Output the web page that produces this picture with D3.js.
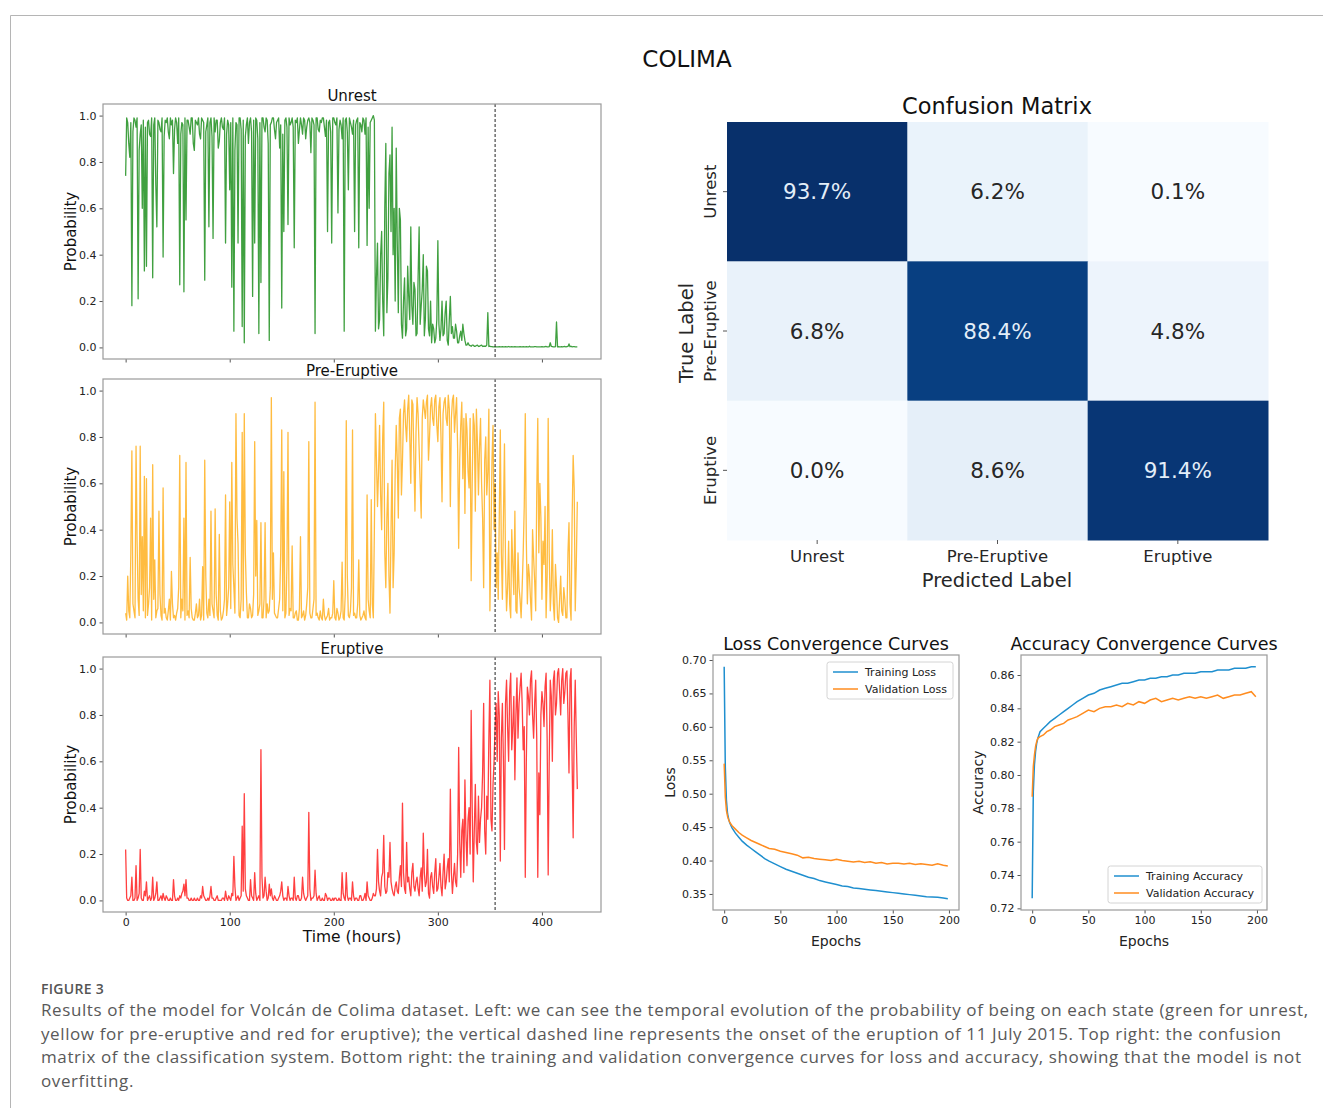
<!DOCTYPE html>
<html>
<head>
<meta charset="utf-8">
<script src="https://cdn.jsdelivr.net/npm/d3@7"></script>
<style>
body { margin: 0; background: #fff; }
svg text { font-family: "DejaVu Sans", sans-serif; }
svg text.cap { font-family: "Open Sans", sans-serif; }
</style>
</head>
<body>
<svg width="1323" height="1108"></svg>
<script>
'use strict';

// hourly probabilities 0..434 h, stored as readings at even hours and at odd hours
var hours = d3.range(0, 435);
var onsetHour = 355;

var unrestEven = [
  0.74,0.97,0.82,0.18,0.99,0.95,0.21,0.92,0.60,0.33,
  0.35,0.98,0.91,0.30,0.99,0.52,0.97,0.93,0.39,0.98,
  0.99,0.90,0.96,0.75,0.99,0.88,0.27,0.97,0.24,0.55,
  0.98,0.92,0.99,0.85,0.97,0.99,0.90,0.98,0.29,0.96,
  0.52,0.99,0.47,0.93,0.98,0.89,0.99,0.94,0.45,0.98,
  0.68,0.26,0.07,0.97,0.45,0.99,0.09,0.02,0.96,0.88,
  0.99,0.22,0.45,0.98,0.06,0.28,0.99,0.93,0.98,0.03,
  0.97,0.99,0.90,0.98,0.86,0.17,0.50,0.99,0.53,0.96,
  0.99,0.43,0.97,0.88,0.99,0.92,0.98,0.95,0.99,0.84,
  0.98,0.06,0.99,0.93,0.97,0.99,0.91,0.50,0.98,0.45,
  0.99,0.96,0.58,0.98,0.90,0.07,0.99,0.68,0.97,0.92,
  0.50,0.98,0.43,0.96,0.99,0.92,0.44,0.60,0.98,1.00,
  0.07,0.45,0.12,0.50,0.05,0.88,0.30,0.83,0.95,0.60,
  0.86,0.15,0.55,0.04,0.30,0.08,0.22,0.52,0.10,0.25,
  0.06,0.52,0.18,0.40,0.12,0.33,0.05,0.02,0.08,0.04,
  0.46,0.03,0.20,0.06,0.20,0.01,0.22,0.09,0.04,0.07,
  0.02,0.07,0.10,0.03,0.01,0.01,0.005,0.01,0.005,0.01,
  0.005,0.01,0.005,0.005,0.15,0.005,0.003,0.002,0.002,0.002,
  0.002,0.003,0.002,0.002,0.004,0.002,0.002,0.003,0.002,0.002,
  0.002,0.003,0.002,0.002,0.005,0.002,0.002,0.003,0.002,0.002,
  0.003,0.002,0.004,0.002,0.02,0.003,0.002,0.11,0.003,0.002,
  0.002,0.004,0.003,0.015,0.005,0.003,0.002,0.002
];
var unrestOdd = [
  0.99,0.88,0.97,0.93,0.98,0.99,0.85,0.96,0.98,0.95,
  0.97,0.92,0.99,0.96,0.70,0.98,0.94,0.99,0.91,0.97,
  0.93,0.99,0.98,0.94,0.97,0.99,0.92,0.96,0.99,0.98,
  0.95,0.99,0.88,0.98,0.96,0.92,0.99,0.97,0.93,0.99,
  0.97,0.91,0.99,0.98,0.86,0.97,0.95,0.99,0.92,0.96,
  0.97,0.99,0.85,0.96,0.99,0.94,0.98,0.91,0.99,0.97,
  0.93,0.98,0.99,0.90,0.97,0.99,0.95,0.99,0.88,0.96,
  0.99,0.94,0.97,0.99,0.96,0.92,0.98,0.95,0.99,0.97,
  0.95,0.98,0.99,0.94,0.96,0.99,0.90,0.98,0.97,0.99,
  0.96,0.99,0.94,0.98,0.99,0.95,0.98,0.97,0.93,0.99,
  0.97,0.99,0.94,0.96,0.99,0.98,0.93,0.99,0.95,0.98,
  0.96,0.99,0.97,0.93,0.98,0.99,0.95,0.97,0.99,0.98,
  0.30,0.08,0.40,0.20,0.60,0.15,0.75,0.50,0.40,0.20,
  0.45,0.60,0.10,0.20,0.05,0.35,0.12,0.18,0.28,0.05,
  0.30,0.10,0.25,0.05,0.35,0.08,0.20,0.10,0.02,0.12,
  0.10,0.08,0.05,0.15,0.03,0.12,0.06,0.04,0.10,0.02,
  0.05,0.03,0.06,0.01,0.02,0.008,0.01,0.005,0.008,0.004,
  0.008,0.004,0.006,0.01,0.004,0.003,0.002,0.003,0.002,0.003,
  0.002,0.002,0.003,0.002,0.002,0.003,0.002,0.002,0.002,0.003,
  0.002,0.002,0.003,0.002,0.002,0.002,0.003,0.002,0.002,0.002,
  0.002,0.003,0.002,0.003,0.004,0.002,0.003,0.002,0.002,0.003,
  0.003,0.002,0.004,0.003,0.002,0.003,0.002
];

var preEruptiveEven = [
  0.04,0.20,0.02,0.74,0.05,0.76,0.10,0.76,0.37,0.63,
  0.62,0.08,0.45,0.68,0.27,0.05,0.48,0.03,0.58,0.06,
  0.01,0.10,0.22,0.02,0.01,0.06,0.72,0.10,0.45,0.69,
  0.05,0.28,0.02,0.01,0.08,0.03,0.01,0.24,0.70,0.04,
  0.10,0.48,0.05,0.49,0.03,0.38,0.01,0.05,0.55,0.08,
  0.52,0.69,0.15,0.90,0.34,0.02,0.82,0.90,0.13,0.02,
  0.06,0.03,0.78,0.44,0.05,0.43,0.02,0.43,0.08,0.05,
  0.97,0.30,0.03,0.02,0.10,0.83,0.65,0.04,0.82,0.06,
  0.33,0.02,0.05,0.01,0.37,0.03,0.01,0.08,0.78,0.02,
  0.06,0.95,0.04,0.01,0.02,0.10,0.01,0.03,0.01,0.02,
  0.18,0.01,0.04,0.02,0.26,0.01,0.87,0.03,0.05,0.83,
  0.04,0.02,0.27,0.01,0.03,0.02,0.55,0.05,0.53,0.02,
  0.90,0.50,0.85,0.40,0.95,0.15,0.60,0.04,0.70,0.30,
  0.85,0.45,0.92,0.70,0.96,0.78,0.98,0.60,0.94,0.48,
  0.97,0.75,0.45,0.96,0.88,0.98,0.80,0.97,0.85,0.98,
  0.78,0.97,0.52,0.95,0.88,0.98,0.50,0.96,0.82,0.97,
  0.32,0.85,0.62,0.47,0.83,0.58,0.18,0.90,0.48,0.78,
  0.75,0.60,0.15,0.80,0.65,0.05,0.70,0.40,0.15,0.10,
  0.83,0.10,0.77,0.05,0.35,0.02,0.25,0.48,0.04,0.15,
  0.02,0.30,0.90,0.08,0.20,0.01,0.28,0.05,0.88,0.60,
  0.10,0.25,0.02,0.88,0.05,0.40,0.01,0.15,0.00,0.20,
  0.03,0.10,0.02,0.43,0.01,0.72,0.05,0.52
];
var preEruptiveOdd = [
  0.01,0.05,0.30,0.08,0.02,0.35,0.03,0.12,0.05,0.02,
  0.03,0.15,0.01,0.10,0.02,0.06,0.12,0.01,0.04,0.02,
  0.05,0.01,0.08,0.03,0.04,0.15,0.02,0.05,0.01,0.03,
  0.02,0.06,0.01,0.04,0.02,0.10,0.03,0.01,0.20,0.02,
  0.03,0.08,0.02,0.12,0.01,0.05,0.02,0.10,0.03,0.15,
  0.06,0.25,0.04,0.45,0.03,0.10,0.05,0.30,0.02,0.08,
  0.02,0.12,0.20,0.03,0.08,0.02,0.10,0.02,0.04,0.15,
  0.10,0.04,0.02,0.06,0.30,0.05,0.02,0.25,0.03,0.05,
  0.02,0.04,0.01,0.06,0.02,0.05,0.03,0.15,0.04,0.02,
  0.10,0.03,0.02,0.05,0.01,0.03,0.02,0.06,0.02,0.04,
  0.02,0.06,0.01,0.05,0.02,0.12,0.20,0.02,0.15,0.03,
  0.02,0.08,0.03,0.02,0.05,0.01,0.10,0.02,0.08,0.40,
  0.70,0.65,0.55,0.80,0.30,0.45,0.20,0.40,0.15,0.65,
  0.70,0.88,0.55,0.90,0.85,0.92,0.80,0.96,0.70,0.82,
  0.90,0.60,0.88,0.92,0.95,0.70,0.93,0.88,0.96,0.85,
  0.93,0.80,0.90,0.97,0.85,0.92,0.88,0.98,0.90,0.75,
  0.70,0.95,0.88,0.90,0.65,0.88,0.60,0.85,0.92,0.55,
  0.88,0.45,0.70,0.55,0.92,0.35,0.85,0.60,0.30,0.45,
  0.30,0.45,0.25,0.15,0.08,0.40,0.12,0.05,0.30,0.10,
  0.15,0.50,0.35,0.25,0.10,0.40,0.18,0.55,0.30,0.45,
  0.35,0.50,0.20,0.30,0.15,0.08,0.25,0.02,0.10,0.05,
  0.15,0.02,0.30,0.08,0.45,0.58,0.25
];

var eruptiveEven = [
  0.22,0.00,0.01,0.10,0.00,0.15,0.01,0.22,0.00,0.04,
  0.08,0.01,0.00,0.10,0.01,0.08,0.00,0.02,0.03,0.00,
  0.01,0.00,0.00,0.09,0.00,0.01,0.02,0.03,0.07,0.09,
  0.01,0.00,0.00,0.01,0.00,0.00,0.02,0.06,0.01,0.00,
  0.00,0.06,0.01,0.00,0.02,0.00,0.00,0.01,0.04,0.00,
  0.01,0.03,0.19,0.00,0.02,0.01,0.32,0.46,0.02,0.00,
  0.09,0.01,0.12,0.00,0.02,0.65,0.01,0.10,0.00,0.07,
  0.05,0.00,0.01,0.00,0.02,0.08,0.00,0.01,0.06,0.00,
  0.01,0.10,0.00,0.02,0.00,0.10,0.01,0.01,0.38,0.00,
  0.01,0.13,0.00,0.02,0.00,0.00,0.03,0.00,0.01,0.00,
  0.00,0.01,0.00,0.00,0.12,0.01,0.12,0.00,0.01,0.08,
  0.00,0.01,0.00,0.02,0.00,0.03,0.08,0.01,0.00,0.03,
  0.02,0.22,0.04,0.10,0.28,0.03,0.12,0.25,0.05,0.02,
  0.08,0.03,0.15,0.42,0.05,0.25,0.10,0.02,0.16,0.04,
  0.10,0.02,0.14,0.29,0.06,0.22,0.01,0.12,0.03,0.18,
  0.05,0.16,0.02,0.20,0.08,0.18,0.48,0.03,0.16,0.06,
  0.66,0.10,0.35,0.52,0.15,0.40,0.82,0.08,0.50,0.20,
  0.25,0.40,0.85,0.20,0.35,0.95,0.30,0.60,0.85,0.90,
  0.17,0.85,0.22,0.95,0.60,0.98,0.75,0.52,0.96,0.85,
  0.98,0.65,0.10,0.92,0.80,0.99,0.70,0.95,0.10,0.37,
  0.90,0.75,0.98,0.11,0.95,0.60,0.99,0.85,1.00,0.80,
  1.00,0.90,0.99,0.55,1.00,0.27,0.95,0.48
];
var eruptiveOdd = [
  0.01,0.00,0.02,0.00,0.01,0.00,0.03,0.01,0.00,0.02,
  0.00,0.02,0.01,0.00,0.03,0.00,0.01,0.00,0.01,0.02,
  0.00,0.01,0.00,0.02,0.00,0.00,0.01,0.04,0.02,0.01,
  0.00,0.01,0.00,0.00,0.01,0.00,0.01,0.02,0.00,0.01,
  0.02,0.01,0.00,0.01,0.00,0.00,0.01,0.00,0.01,0.02,
  0.00,0.02,0.06,0.01,0.00,0.02,0.04,0.05,0.01,0.00,
  0.02,0.00,0.03,0.01,0.00,0.10,0.02,0.04,0.01,0.02,
  0.01,0.02,0.00,0.01,0.04,0.02,0.01,0.00,0.02,0.01,
  0.00,0.01,0.02,0.00,0.01,0.03,0.00,0.02,0.05,0.01,
  0.02,0.03,0.01,0.00,0.01,0.00,0.02,0.01,0.00,0.01,
  0.01,0.00,0.01,0.00,0.03,0.00,0.02,0.01,0.00,0.02,
  0.01,0.00,0.02,0.00,0.01,0.00,0.02,0.00,0.01,0.02,
  0.05,0.08,0.02,0.12,0.06,0.04,0.10,0.08,0.03,0.06,
  0.04,0.10,0.06,0.12,0.03,0.08,0.05,0.12,0.06,0.08,
  0.05,0.10,0.04,0.12,0.08,0.03,0.10,0.06,0.12,0.04,
  0.10,0.06,0.12,0.05,0.14,0.08,0.12,0.10,0.08,0.20,
  0.25,0.30,0.12,0.28,0.35,0.20,0.40,0.30,0.25,0.45,
  0.35,0.55,0.30,0.45,0.70,0.35,0.50,0.75,0.60,0.80,
  0.70,0.60,0.85,0.75,0.90,0.65,0.88,0.80,0.70,0.92,
  0.85,0.75,0.60,0.88,0.95,0.80,0.85,0.70,0.55,0.80,
  0.85,0.92,0.70,0.60,0.88,0.95,0.80,0.98,0.90,0.95,
  0.85,0.98,0.80,0.95,0.60,0.75,0.70
];

var probTicks = [0, 0.2, 0.4, 0.6, 0.8, 1.0];
var hourTicks = [0, 100, 200, 300, 400];

// confusion matrix (row = true label, column = predicted)
var classes = ['Unrest', 'Pre-Eruptive', 'Eruptive'];
var confusion = [
  [93.7, 6.2, 0.1],
  [6.8, 88.4, 4.8],
  [0.0, 8.6, 91.4]
];

// convergence curves
var epochs = [0,1,2,3,4,5,7,10,13,16,20,24,28,32,36,40,45,50,55,60,65,70,75,80,85,90,95,
              100,105,110,115,120,125,130,135,140,145,150,155,160,165,170,175,180,185,190,195,199];
var trainLoss = [0.690,0.540,0.490,0.470,0.462,0.456,0.449,0.441,0.435,0.429,0.423,0.418,0.413,0.408,0.403,0.399,
                 0.395,0.391,0.387,0.384,0.381,0.378,0.375,0.373,0.370,0.368,0.366,0.364,0.362,0.361,0.359,0.358,
                 0.357,0.356,0.355,0.354,0.353,0.352,0.351,0.350,0.349,0.348,0.347,0.346,0.3455,0.345,0.344,0.343];
var valLoss = [0.545,0.495,0.475,0.466,0.461,0.457,0.452,0.447,0.442,0.438,0.434,0.430,0.427,0.424,0.421,0.418,
               0.417,0.414,0.412,0.410,0.408,0.404,0.405,0.403,0.402,0.401,0.400,0.402,0.400,0.399,0.398,0.399,
               0.397,0.398,0.396,0.397,0.395,0.396,0.396,0.395,0.396,0.394,0.395,0.394,0.393,0.395,0.393,0.392];
var trainAcc = [0.726,0.790,0.806,0.814,0.819,0.822,0.826,0.828,0.830,0.832,0.834,0.836,0.838,0.840,0.842,0.844,
                0.846,0.848,0.849,0.851,0.852,0.853,0.854,0.855,0.855,0.856,0.857,0.857,0.858,0.858,0.859,0.859,
                0.860,0.860,0.861,0.861,0.861,0.862,0.862,0.862,0.863,0.863,0.863,0.864,0.864,0.864,0.865,0.865];
var valAcc = [0.787,0.805,0.812,0.817,0.820,0.822,0.823,0.824,0.826,0.827,0.829,0.830,0.831,0.833,0.834,0.835,
              0.837,0.839,0.838,0.840,0.841,0.841,0.842,0.841,0.843,0.842,0.844,0.843,0.845,0.846,0.844,0.845,
              0.846,0.845,0.846,0.847,0.846,0.847,0.846,0.847,0.848,0.846,0.847,0.848,0.848,0.849,0.850,0.847];
var epochTicks = [0, 50, 100, 150, 200];
var lossTicks = [0.35, 0.40, 0.45, 0.50, 0.55, 0.60, 0.65, 0.70];
var accTicks = [0.72, 0.74, 0.76, 0.78, 0.80, 0.82, 0.84, 0.86];

var captionLines = [
  'Results of the model for Volcán de Colima dataset. Left: we can see the temporal evolution of the probability of being on each state (green for unrest,',
  'yellow for pre-eruptive and red for eruptive); the vertical dashed line represents the onset of the eruption of 11 July 2015. Top right: the confusion',
  'matrix of the classification system. Bottom right: the training and validation convergence curves for loss and accuracy, showing that the model is not',
  'overfitting.'
];

// put the even/odd readings back in hour order
function hourly(even, odd) {
    return hours.map(function(h) { return h % 2 ? odd[(h - 1) / 2] : even[h / 2]; });
}

var svg = d3.select('svg');

// card frame
svg.append('path').attr('d', 'M10.5,1108 V15.5 H1323')
    .attr('fill', 'none').attr('stroke', '#b5b5b5');

svg.append('text').attr('x', 687).attr('y', 67).attr('text-anchor', 'middle')
    .attr('font-size', 23).attr('fill', '#111').text('COLIMA');

function styleAxis(a, size) {
    a.select('.domain').remove();
    a.selectAll('.tick line').attr('stroke', '#555');
    a.selectAll('.tick text').attr('font-size', size).attr('fill', '#222');
}

// ---- probability panels ----
var panelH = 255;
var xTime = d3.scaleLinear().domain([-21.75, 456.75]).range([103, 601]);

function probPanel(top, title, values, color, withLabels) {
    var y = d3.scaleLinear().domain([-0.05, 1.05]).range([top + panelH, top]);
    var g = svg.append('g');

    g.append('path').datum(values)
        .attr('fill', 'none').attr('stroke', color)
        .attr('stroke-width', 1.3).attr('stroke-opacity', 0.75)
        .attr('stroke-linejoin', 'round')
        .attr('d', d3.line()
            .x(function(d, i) { return xTime(hours[i]); })
            .y(function(d) { return y(d); }));

    g.append('line')
        .attr('x1', xTime(onsetHour)).attr('x2', xTime(onsetHour))
        .attr('y1', top).attr('y2', top + panelH)
        .attr('stroke', '#222').attr('stroke-width', 1).attr('stroke-dasharray', '3,2');

    var ya = g.append('g').attr('transform', 'translate(' + xTime.range()[0] + ',0)')
        .call(d3.axisLeft(y).tickValues(probTicks).tickFormat(d3.format('.1f')).tickSize(3.5).tickPadding(3));
    styleAxis(ya, 11);

    var xa = g.append('g').attr('transform', 'translate(0,' + (top + panelH) + ')')
        .call(d3.axisBottom(xTime).tickValues(hourTicks).tickSize(3.5)
            .tickFormat(withLabels ? d3.format('d') : ''));
    styleAxis(xa, 11);

    g.append('rect').attr('x', 103).attr('y', top).attr('width', 498).attr('height', panelH)
        .attr('fill', 'none').attr('stroke', '#9a9a9a').attr('stroke-width', 1.2);

    g.append('text').attr('x', 352).attr('y', top - 3).attr('text-anchor', 'middle')
        .attr('font-size', 15).attr('fill', '#111').text(title);

    g.append('text').attr('transform', 'translate(76,' + (top + panelH / 2) + ') rotate(-90)')
        .attr('text-anchor', 'middle').attr('font-size', 15).attr('fill', '#111').text('Probability');
}

probPanel(104, 'Unrest', hourly(unrestEven, unrestOdd), '#008000', false);
probPanel(379, 'Pre-Eruptive', hourly(preEruptiveEven, preEruptiveOdd), '#ffa500', false);
probPanel(657, 'Eruptive', hourly(eruptiveEven, eruptiveOdd), '#ff0000', true);

svg.append('text').attr('x', 352).attr('y', 942).attr('text-anchor', 'middle')
    .attr('font-size', 15.5).attr('fill', '#111').text('Time (hours)');

// ---- confusion matrix ----
var cmX = d3.scaleBand().domain(classes).range([727, 1268]);
var cmY = d3.scaleBand().domain(classes).range([122, 540]);
var cmColor = d3.scaleSequential(d3.interpolateBlues).domain([0, 93.7]);

var cells = [];
confusion.forEach(function(row, i) {
    row.forEach(function(v, j) { cells.push({ t: classes[i], p: classes[j], v: v }); });
});

var cm = svg.append('g');
cm.selectAll('rect').data(cells).enter().append('rect')
    .attr('x', function(d) { return cmX(d.p); })
    .attr('y', function(d) { return cmY(d.t); })
    .attr('width', cmX.bandwidth() + 0.5)
    .attr('height', cmY.bandwidth() + 0.5)
    .attr('fill', function(d) { return cmColor(d.v); });

cm.selectAll('text.val').data(cells).enter().append('text')
    .attr('class', 'val')
    .attr('x', function(d) { return cmX(d.p) + cmX.bandwidth() / 2; })
    .attr('y', function(d) { return cmY(d.t) + cmY.bandwidth() / 2; })
    .attr('dy', '0.36em').attr('text-anchor', 'middle').attr('font-size', 21.5)
    .attr('fill', function(d) { return d.v > 50 ? '#e3eef9' : '#262626'; })
    .text(function(d) { return d.v.toFixed(1) + '%'; });

var cmxa = cm.append('g').attr('transform', 'translate(0,540)')
    .call(d3.axisBottom(cmX).tickSize(4).tickPadding(6));
styleAxis(cmxa, 16.5);
cmxa.selectAll('.tick text').attr('fill', '#262626');

var cmya = cm.append('g').attr('transform', 'translate(727,0)')
    .call(d3.axisLeft(cmY).tickSize(4).tickFormat(''));
styleAxis(cmya, 16.5);
cm.selectAll('text.rowlab').data(classes).enter().append('text')
    .attr('class', 'rowlab')
    .attr('transform', function(d) { return 'translate(716,' + (cmY(d) + cmY.bandwidth() / 2) + ') rotate(-90)'; })
    .attr('text-anchor', 'middle').attr('font-size', 16.5).attr('fill', '#262626')
    .text(function(d) { return d; });

cm.append('text').attr('x', 997).attr('y', 114).attr('text-anchor', 'middle')
    .attr('font-size', 22.5).attr('fill', '#111').text('Confusion Matrix');
cm.append('text').attr('x', 997).attr('y', 587).attr('text-anchor', 'middle')
    .attr('font-size', 19.5).attr('fill', '#262626').text('Predicted Label');
cm.append('text').attr('transform', 'translate(693,333) rotate(-90)').attr('text-anchor', 'middle')
    .attr('font-size', 19.5).attr('fill', '#262626').text('True Label');

// ---- convergence curves ----
var blue = '#1f8fcf', orange = '#ff8c1f';

function curvePanel(x0, x1, yDomain, ticks, fmt, series, title, ylab, legendPos) {
    var top = 655, bottom = 910;
    var x = d3.scaleLinear().domain([-9.95, 208.95]).range([x0, x1]);
    var y = d3.scaleLinear().domain(yDomain).range([bottom, top]);
    var g = svg.append('g');

    series.forEach(function(s) {
        g.append('path').datum(s.values)
            .attr('fill', 'none').attr('stroke', s.color).attr('stroke-width', 1.5)
            .attr('d', d3.line()
                .x(function(d, i) { return x(epochs[i]); })
                .y(function(d) { return y(d); }));
    });

    var ya = g.append('g').attr('transform', 'translate(' + x0 + ',0)')
        .call(d3.axisLeft(y).tickValues(ticks).tickFormat(d3.format(fmt)).tickSize(3.5).tickPadding(3));
    styleAxis(ya, 11);
    var xa = g.append('g').attr('transform', 'translate(0,' + bottom + ')')
        .call(d3.axisBottom(x).tickValues(epochTicks).tickSize(3.5).tickFormat(d3.format('d')));
    styleAxis(xa, 11);

    g.append('rect').attr('x', x0).attr('y', top).attr('width', x1 - x0).attr('height', bottom - top)
        .attr('fill', 'none').attr('stroke', '#9a9a9a').attr('stroke-width', 1.2);

    g.append('text').attr('x', (x0 + x1) / 2).attr('y', 650).attr('text-anchor', 'middle')
        .attr('font-size', 17.5).attr('fill', '#111').text(title);
    g.append('text').attr('x', (x0 + x1) / 2).attr('y', 946).attr('text-anchor', 'middle')
        .attr('font-size', 14).attr('fill', '#222').text('Epochs');
    g.append('text').attr('transform', 'translate(' + (x0 - 38) + ',' + ((top + bottom) / 2) + ') rotate(-90)')
        .attr('text-anchor', 'middle').attr('font-size', 14).attr('fill', '#222').text(ylab);

    // legend
    var lg = g.append('g').attr('transform', 'translate(' + legendPos[0] + ',' + legendPos[1] + ')');
    var lw = legendPos[2];
    lg.append('rect').attr('width', lw).attr('height', 37).attr('rx', 2.5)
        .attr('fill', '#fff').attr('fill-opacity', 0.85).attr('stroke', '#d4d4d4');
    series.forEach(function(s, i) {
        lg.append('line').attr('x1', 6).attr('x2', 31).attr('y1', 10 + i * 17).attr('y2', 10 + i * 17)
            .attr('stroke', s.color).attr('stroke-width', 1.5);
        lg.append('text').attr('x', 38).attr('y', 10 + i * 17).attr('dy', '0.35em')
            .attr('font-size', 11).attr('fill', '#222').text(s.name);
    });
}

curvePanel(713, 959, [0.326, 0.7075], lossTicks, '.2f',
    [{ name: 'Training Loss', values: trainLoss, color: blue },
     { name: 'Validation Loss', values: valLoss, color: orange }],
    'Loss Convergence Curves', 'Loss', [827, 662, 126]);

curvePanel(1021, 1267, [0.719, 0.872], accTicks, '.2f',
    [{ name: 'Training Accuracy', values: trainAcc, color: blue },
     { name: 'Validation Accuracy', values: valAcc, color: orange }],
    'Accuracy Convergence Curves', 'Accuracy', [1108, 866, 154]);

// ---- caption ----
svg.append('text').attr('class', 'cap').attr('x', 41).attr('y', 994)
    .attr('font-size', 14).attr('font-weight', 600).attr('letter-spacing', 0.3)
    .attr('fill', '#555').text('FIGURE 3');
svg.selectAll('text.capline').data(captionLines).enter().append('text')
    .attr('class', 'cap capline')
    .attr('x', 41).attr('y', function(d, i) { return 1016 + i * 23.7; })
    .attr('font-size', 17).attr('letter-spacing', 0.6).attr('fill', '#595959')
    .text(function(d) { return d; });
</script>
</body>
</html>
